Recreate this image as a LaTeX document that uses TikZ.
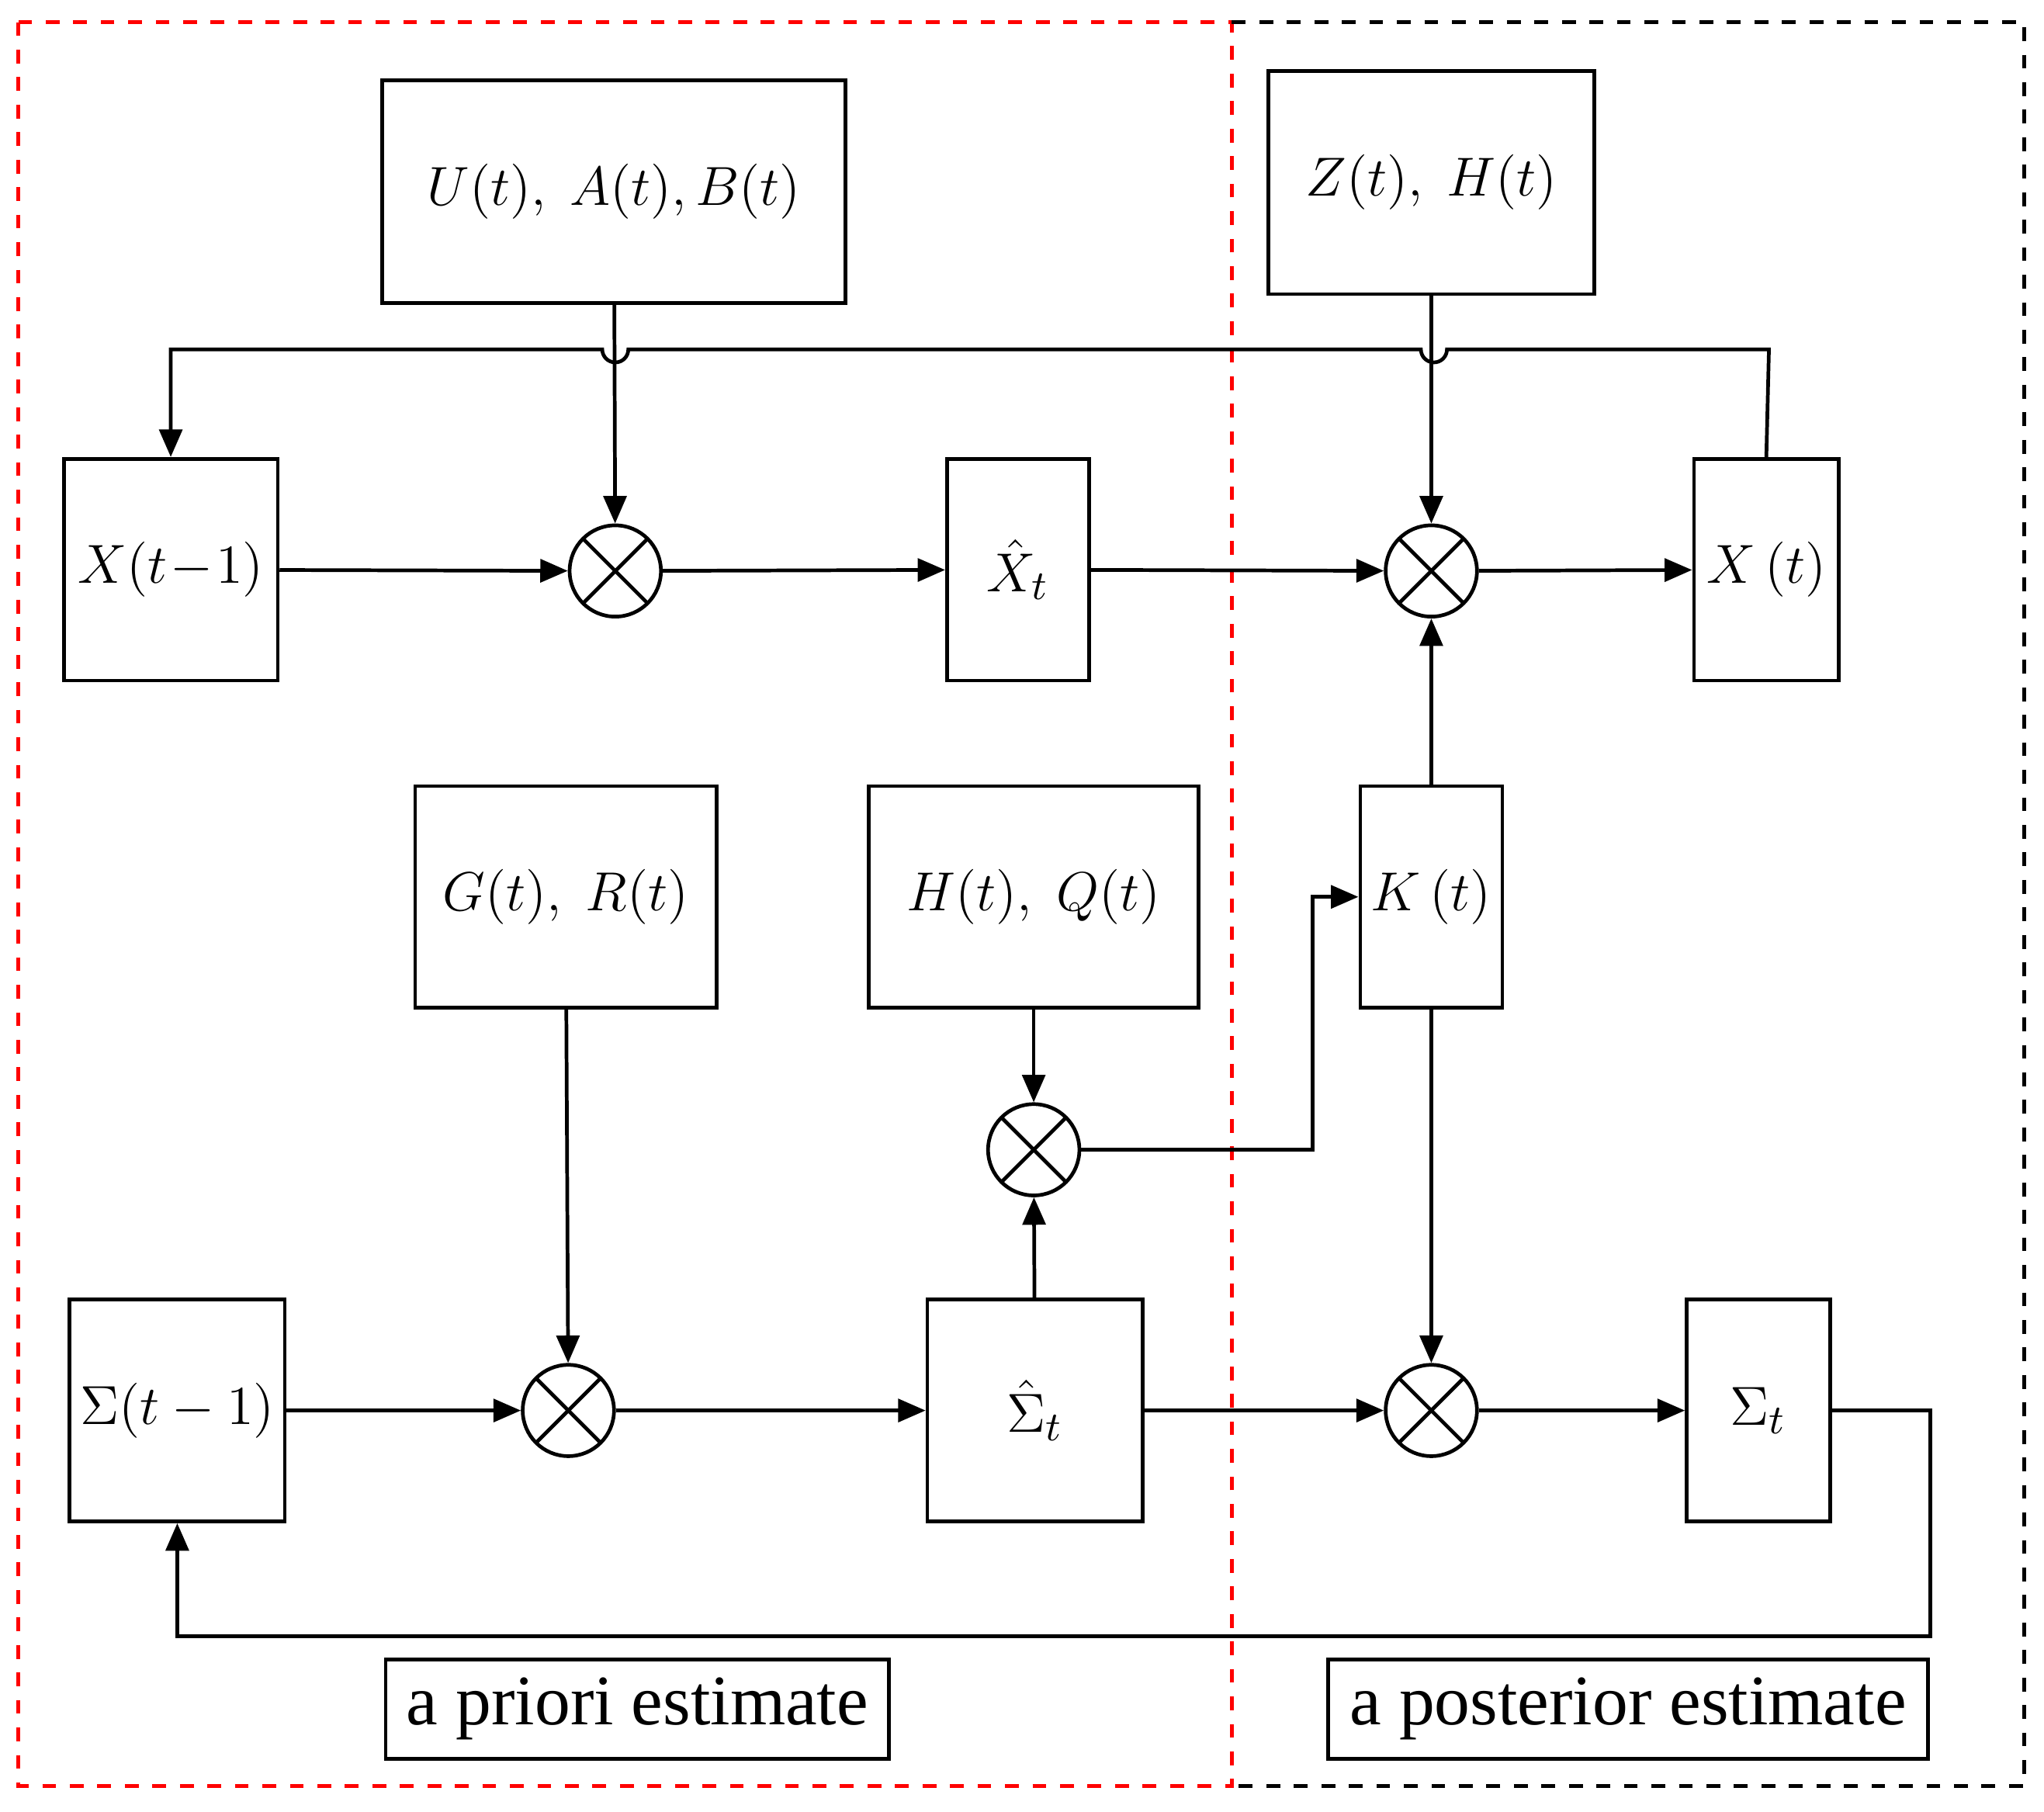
\documentclass[tikz,border=0pt]{standalone}
\usepackage{fontspec}
\setmainfont{Liberation Serif}
\usetikzlibrary{arrows.meta,positioning,calc}
\tikzset{
  blk/.style={draw,thick,minimum width=#1,inner sep=0pt,font=\fontsize{13}{15}\selectfont},
  mul/.style={draw,thick,circle,minimum size=0.7cm,inner sep=0pt,
    path picture={\draw[thick] (path picture bounding box.north west)--(path picture bounding box.south east)
      (path picture bounding box.north east)--(path picture bounding box.south west);}},
  arr/.style={thick,-{Triangle[length=6pt,width=5pt]}},
  lbl/.style={draw,thick,font=\fontsize{15.5}{18}\selectfont,minimum height=0.76cm}
}
\begin{document}
\begin{tikzpicture}[x=0.01cm,y=-0.01cm]
        \useasboundingbox (0,0) rectangle (1568,1390);
        % regions
        \draw[red,dashed,thick] (14,17) rectangle (945,1370);
        \draw[dashed,thick] (945,17) -- (1553,17) -- (1553,1370) -- (945,1370);
        % blocks
        \node[blk=3.55cm,minimum height=1.71cm] (uab) at (471,147) {$U(t),\ A(t),B(t)$};
        \node[blk=2.5cm,minimum height=1.71cm] (zh) at (1098,140) {$Z(t),\ H(t)$};
        \node[blk=1.64cm,minimum height=1.7cm] (xprev) at (131,437) {$X(t\!-\!1)$};
        \node[mul] (m1) at (472,438) {};
        \node[blk=1.09cm,minimum height=1.7cm] (xhat) at (781,437) {$\hat X_t$};
        \node[mul] (m2) at (1098,438) {};
        \node[blk=1.11cm,minimum height=1.7cm] (xnow) at (1355,437) {$X\,(t)$};
        \node[blk=2.31cm,minimum height=1.7cm] (gr) at (434,688) {$G(t),\ R(t)$};
        \node[blk=2.53cm,minimum height=1.7cm] (hq) at (793,688) {$H(t),\ Q(t)$};
        \node[blk=1.09cm,minimum height=1.7cm] (kt) at (1098,688) {$K\,(t)$};
        \node[mul] (m3) at (793,882) {};
        \node[blk=1.65cm,minimum height=1.7cm] (sprev) at (136,1082) {$\Sigma(t-1)$};
        \node[mul] (m4) at (436,1082) {};
        \node[blk=1.65cm,minimum height=1.7cm] (shat) at (794,1082) {$\hat\Sigma_t$};
        \node[mul] (m5) at (1098,1082) {};
        \node[blk=1.1cm,minimum height=1.7cm] (snow) at (1349,1082) {$\Sigma_t$};
        \node[lbl,minimum width=3.86cm] (prio) at (489,1311) {a priori estimate};
        \node[lbl,minimum width=4.6cm] (post) at (1249,1311) {a posterior estimate};
        \coordinate (top) at (1357,268);
        \coordinate (fb) at (1481,1255);
        \coordinate (kin) at (1007,688);
        % connectors
        \draw[arr] (xnow.north) -- (top) -- (1110,268) arc (0:180:10) -- (482,268) arc (0:180:10)
          -- (xprev.north |- top) -- (xprev.north);
        \draw[arr] (uab) -- (m1);
        \draw[arr] (zh) -- (m2);
        \draw[arr] (xprev) -- (m1);
        \draw[arr] (m1) -- (xhat);
        \draw[arr] (xhat) -- (m2);
        \draw[arr] (m2) -- (xnow);
        \draw[arr] (kt) -- (m2);
        \draw[arr] (kt) -- (m5);
        \draw[arr] (hq) -- (m3);
        \draw[arr] (shat) -- (m3);
        \draw[arr] (m3) -| (kin) -- (kt.west);
        \draw[arr] (gr) -- (m4);
        \draw[arr] (sprev) -- (m4);
        \draw[arr] (m4) -- (shat);
        \draw[arr] (shat) -- (m5);
        \draw[arr] (m5) -- (snow);
        \draw[arr] (snow.east) -| (fb) -| (sprev.south);
\end{tikzpicture}
\end{document}
